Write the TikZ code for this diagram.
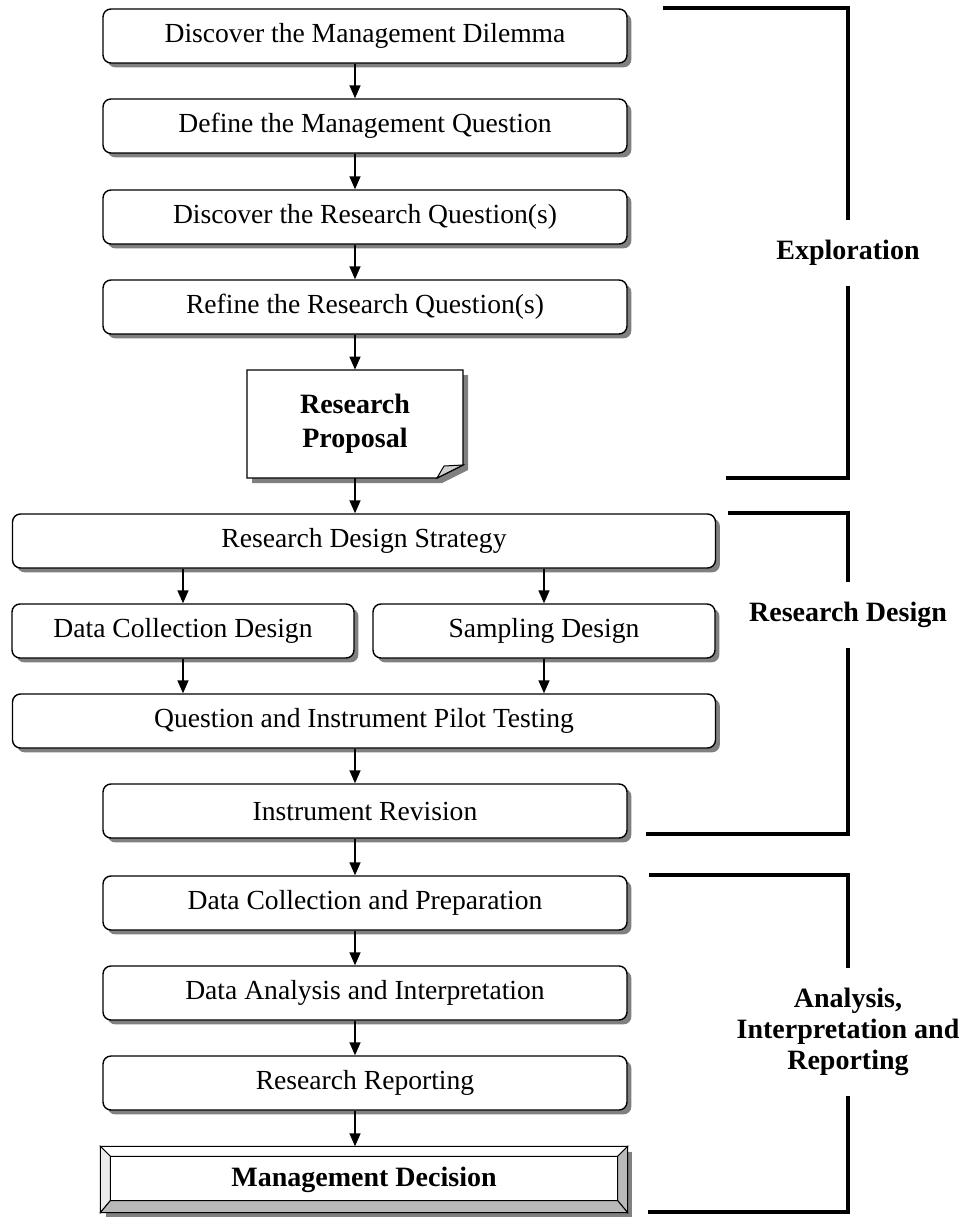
\documentclass[tikz,border=0pt]{standalone}
\usepackage{fontspec}
\setmainfont{Liberation Serif}
\usetikzlibrary{arrows.meta,shadows}

\tikzset{
  stage/.style={draw, fill=white, rounded corners=4pt, line width=0.7pt,
    minimum height=27pt, inner sep=0pt, font=\fontsize{13.8}{16}\selectfont,
    drop shadow={shadow xshift=2.2pt, shadow yshift=-2.2pt, fill=gray, opacity=1}},
  arr/.style={-{Triangle[length=6.5pt,width=5.5pt]}, line width=0.75pt},
  brk/.style={line width=2pt},
  phase/.style={fill=white, inner xsep=2pt, inner ysep=10pt, align=center,
    font=\fontsize{14}{15.5}\selectfont\bfseries}
}

\begin{document}
\begin{tikzpicture}[x=0.5pt,y=-0.5pt]
   \useasboundingbox (0,0) rectangle (968,1219);

   % exploration
   \node[stage, minimum width=262pt] (s1) at (365,36) {Discover the Management Dilemma};
   \node[stage, minimum width=262pt] (s2) at (365,126) {Define the Management Question};
   \node[stage, minimum width=262pt] (s3) at (365,217) {Discover the Research Question(s)};
   \node[stage, minimum width=262pt] (s4) at (365,307) {Refine the Research Question(s)};

   % proposal page with folded corner
   \fill[gray] (252,375) -- (468,375) -- (468,470) -- (442,483) -- (252,483) -- cycle;
   \filldraw[fill=white, line width=0.7pt] (247,370) -- (463,370) -- (463,465) -- (437,478) -- (247,478) -- cycle;
   \filldraw[fill=gray!35, line width=0.5pt] (437,478) -- (444,466) -- (463,465) -- cycle;
   \node[align=center, font=\fontsize{14}{17}\selectfont\bfseries,
     minimum width=108pt, minimum height=54pt] (prop) at (355,424) {Research\\Proposal};

   % research design
   \node[stage, minimum width=351.5pt] (rds) at (364,541) {Research Design Strategy};
   \node[stage, minimum width=171pt] (dcd) at (183,631) {Data Collection Design};
   \node[stage, minimum width=171pt] (sd) at (544,631) {Sampling Design};
   \node[stage, minimum width=351.5pt] (qipt) at (364,721) {Question and Instrument Pilot Testing};
   \node[stage, minimum width=262pt] (ir) at (365,811) {Instrument Revision};

   % analysis and reporting
   \node[stage, minimum width=262pt] (dcp) at (365,903) {Data Collection and Preparation};
   \node[stage, minimum width=262pt] (dai) at (365,993) {Data Analysis and Interpretation};
   \node[stage, minimum width=262pt] (rr) at (365,1083) {Research Reporting};

   % decision box with bevel
   \node[draw, fill=white, line width=0.7pt, minimum width=263pt, minimum height=32.5pt,
     drop shadow={shadow xshift=2.5pt, shadow yshift=-2.5pt, fill=gray, opacity=1}] (md) at (364,1179.5) {};
   \filldraw[fill=white, line width=0.5pt] (md.north west) -- (md.north east)
     -- ([xshift=-5pt,yshift=-5pt]md.north east) -- ([xshift=5pt,yshift=-5pt]md.north west) -- cycle;
   \filldraw[fill=gray!15, line width=0.5pt] (md.north west) -- ([xshift=5pt,yshift=-5pt]md.north west)
     -- ([xshift=5pt,yshift=6pt]md.south west) -- (md.south west) -- cycle;
   \filldraw[fill=gray!55, line width=0.5pt] (md.north east) -- ([xshift=-5pt,yshift=-5pt]md.north east)
     -- ([xshift=-5pt,yshift=6pt]md.south east) -- (md.south east) -- cycle;
   \filldraw[fill=gray!55, line width=0.5pt] (md.south west) -- ([xshift=5pt,yshift=6pt]md.south west)
     -- ([xshift=-5pt,yshift=6pt]md.south east) -- (md.south east) -- cycle;
   \node[font=\fontsize{14}{17}\selectfont\bfseries] at (md) {Management Decision};

   \draw[arr] (s1.south -| prop.north) -- (s2.north -| prop.north);
   \draw[arr] (s2.south -| prop.north) -- (s3.north -| prop.north);
   \draw[arr] (s3.south -| prop.north) -- (s4.north -| prop.north);
   \draw[arr] (s4.south -| prop.north) -- (prop.north);
   \draw[arr] (prop.south) -- (rds.north -| prop.south);
   \draw[arr] (rds.south -| dcd.north) -- (dcd.north);
   \draw[arr] (rds.south -| sd.north) -- (sd.north);
   \draw[arr] (dcd.south) -- (qipt.north -| dcd.south);
   \draw[arr] (sd.south) -- (qipt.north -| sd.south);
   \draw[arr] (qipt.south -| prop.north) -- (ir.north -| prop.north);
   \draw[arr] (ir.south -| prop.north) -- (dcp.north -| prop.north);
   \draw[arr] (dcp.south -| prop.north) -- (dai.north -| prop.north);
   \draw[arr] (dai.south -| prop.north) -- (rr.north -| prop.north);
   \draw[arr] (rr.south -| prop.north) -- (md.north -| prop.north);

   % phase brackets
   \draw[brk] (663,8) -- (848,8) -- (848,478) -- (726,478);
   \draw[brk] (728,513) -- (848,513) -- (848,834) -- (646,834);
   \draw[brk] (649,875) -- (848,875) -- (848,1212) -- (648,1212);
   \node[phase] (ph1) at (848,253) {Exploration};
   \node[phase] (ph2) at (848,615) {Research Design};
   \node[phase] (ph3) at (848,1032) {Analysis,\\Interpretation and\\Reporting};
\end{tikzpicture}
\end{document}
